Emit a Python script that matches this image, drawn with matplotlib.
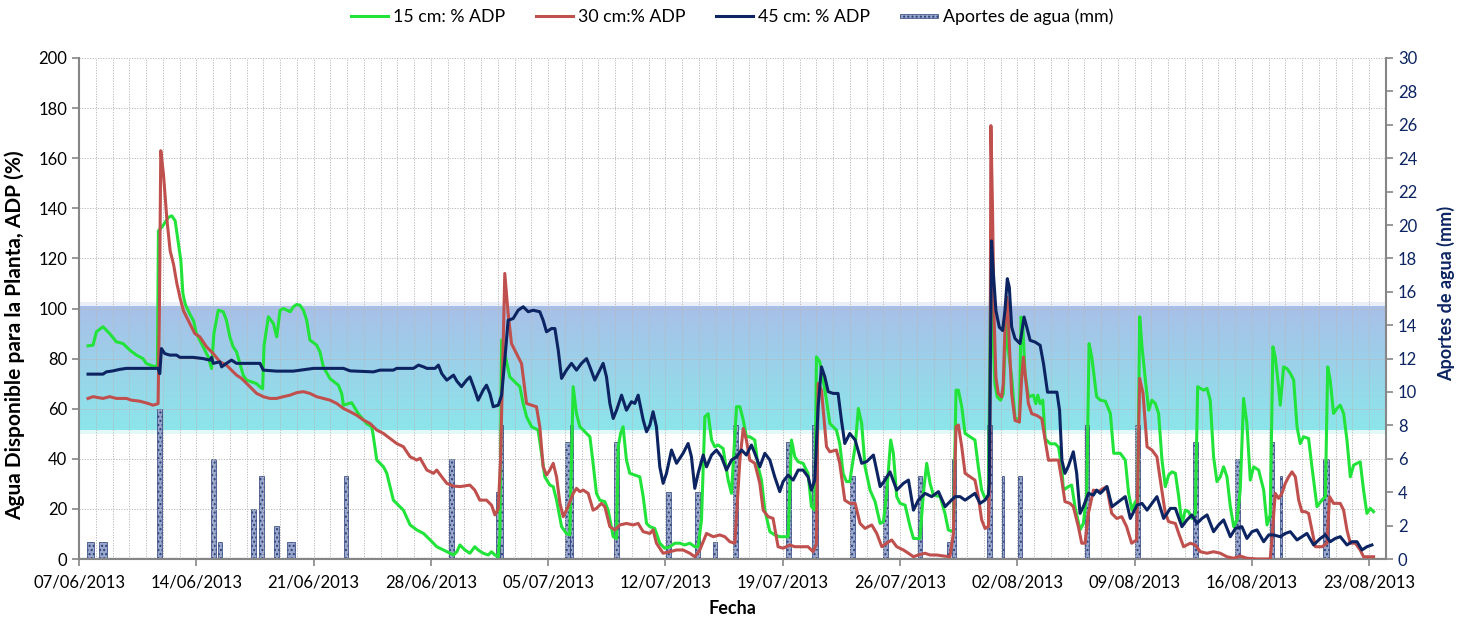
import datetime as dt
import numpy as np
import matplotlib
matplotlib.use("Agg")
import matplotlib.pyplot as plt
import matplotlib.dates as mdates
import matplotlib.patches as mpatches
from matplotlib.lines import Line2D
from matplotlib.legend_handler import HandlerPatch

plt.rcParams['font.family'] = ['Lato', 'DejaVu Sans']

# Fecha de inicio del registro (dia 0)
inicio = dt.datetime(2013, 6, 7)
fin = dt.datetime(2013, 8, 24)

# Series: (dias desde el 07/06/2013, % ADP)
serie_15cm = [
    (0.54, 85.1), (0.84, 85.4), (1.04, 90.7), (1.43, 92.7), (1.83, 90.0), (2.23, 86.7), (2.63, 86.0),
    (3.03, 83.4), (3.43, 81.4), (3.82, 80.0), (4.02, 78.0), (4.42, 77.0), (4.68, 77.0), (4.74, 131.0),
    (5.0, 133.0), (5.34, 136.4), (5.54, 137.0), (5.74, 135.0), (5.94, 125.7), (6.08, 119.0), (6.2, 106.0),
    (6.34, 101.7), (6.6, 98.0), (6.84, 95.0), (7.01, 90.0), (7.41, 84.7), (7.71, 80.7), (7.91, 76.0),
    (8.05, 90.0), (8.31, 99.3), (8.61, 98.7), (8.8, 95.3), (9.0, 88.7), (9.2, 84.7), (9.4, 82.7),
    (9.6, 78.0), (9.8, 73.4), (10.0, 71.4), (10.3, 70.7), (10.6, 70.0), (10.8, 68.7), (10.96, 68.0),
    (11.04, 85.0), (11.3, 96.7), (11.6, 94.0), (11.8, 88.7), (12.0, 99.3), (12.2, 100.0), (12.6, 98.7),
    (12.8, 100.7), (12.99, 101.6), (13.19, 101.3), (13.39, 99.3), (13.59, 95.3), (13.78, 87.4),
    (14.18, 85.4), (14.38, 82.7), (14.58, 76.7), (14.98, 72.0), (15.48, 69.4), (15.68, 66.0),
    (15.78, 61.4), (16.27, 62.4), (16.67, 58.0), (17.17, 54.0), (17.47, 52.8), (17.57, 48.8),
    (17.77, 39.5), (18.17, 36.8), (18.37, 34.2), (18.76, 23.5), (19.36, 19.5), (19.76, 13.6),
    (20.16, 11.6), (20.56, 10.2), (20.96, 7.6), (21.35, 4.9), (21.75, 3.6), (22.35, 1.6), (22.55, 2.9),
    (22.73, 5.6), (23.03, 3.6), (23.33, 2.3), (23.62, 4.9), (23.82, 3.6), (24.12, 2.3), (24.42, 1.6),
    (24.62, 2.9), (24.82, 1.6), (25.02, 0.9), (25.12, 10.0), (25.22, 87.4), (25.41, 82.0), (25.71, 72.7),
    (26.01, 70.7), (26.31, 68.8), (26.51, 62.0), (26.71, 56.8), (27.01, 52.8), (27.4, 51.5), (27.6, 42.0),
    (27.8, 32.8), (28.1, 29.5), (28.3, 28.9), (28.5, 23.5), (28.8, 12.9), (29.09, 10.2), (29.29, 9.6),
    (29.39, 40.0), (29.49, 68.8), (29.69, 58.0), (29.89, 52.8), (30.09, 51.5), (30.29, 50.1),
    (30.49, 48.8), (30.68, 38.2), (30.88, 26.2), (31.08, 23.5), (31.38, 22.9), (31.58, 19.5),
    (31.88, 8.9), (32.08, 8.2), (32.18, 44.8), (32.32, 50.1), (32.47, 52.8), (32.67, 39.5),
    (32.87, 34.2), (33.17, 33.5), (33.47, 32.8), (33.67, 24.9), (33.87, 14.2), (34.07, 12.9),
    (34.36, 12.2), (34.66, 6.3), (34.96, 4.3), (35.26, 4.9), (35.56, 6.3), (35.86, 6.3), (36.15, 5.6),
    (36.45, 6.3), (36.75, 4.9), (36.95, 4.9), (37.15, 15.6), (37.35, 56.8), (37.55, 58.0), (37.75, 47.5),
    (37.94, 44.8), (38.14, 45.5), (38.44, 44.1), (38.74, 31.5), (38.94, 26.2), (39.24, 60.8),
    (39.44, 60.8), (39.64, 55.5), (39.83, 48.8), (40.03, 48.8), (40.33, 47.5), (40.53, 36.8),
    (40.73, 31.5), (40.93, 19.5), (41.23, 10.9), (41.52, 9.6), (41.82, 8.9), (42.32, 8.9), (42.52, 47.5),
    (42.72, 40.8), (42.92, 38.8), (43.21, 38.2), (43.51, 34.2), (43.71, 20.9), (43.91, 19.5),
    (44.01, 80.7), (44.21, 78.7), (44.41, 71.4), (44.61, 63.4), (44.81, 54.1), (45.0, 52.8), (45.2, 51.5),
    (45.4, 46.1), (45.6, 34.2), (45.8, 30.9), (46.0, 30.9), (46.32, 45.0), (46.51, 60.1), (46.71, 54.1),
    (46.91, 36.8), (47.21, 27.5), (47.51, 22.9), (47.81, 14.2), (48.01, 14.9), (48.2, 26.2),
    (48.44, 47.5), (48.6, 42.2), (48.8, 24.9), (49.0, 22.2), (49.3, 21.5), (49.6, 12.9), (49.8, 8.2),
    (50.19, 8.2), (50.39, 26.2), (50.59, 38.2), (50.79, 30.2), (50.99, 25.5), (51.39, 24.9),
    (51.68, 18.2), (51.88, 11.6), (52.18, 10.9), (52.34, 67.4), (52.48, 67.4), (52.68, 60.8),
    (52.88, 50.1), (53.18, 48.8), (53.47, 47.5), (53.67, 36.8), (53.87, 27.5), (54.07, 24.2),
    (54.27, 25.5), (54.4, 106.0), (54.56, 86.0), (54.66, 70.0), (54.8, 64.7), (55.0, 63.4), (55.16, 66.0),
    (55.26, 83.3), (55.32, 94.0), (55.46, 83.3), (55.66, 72.6), (55.86, 56.6), (56.12, 54.7),
    (56.22, 96.6), (56.32, 94.0), (56.46, 74.0), (56.66, 64.7), (56.96, 65.4), (57.1, 62.0),
    (57.22, 65.4), (57.36, 62.0), (57.52, 63.4), (57.66, 48.0), (57.96, 46.0), (58.26, 46.0),
    (58.46, 44.6), (58.66, 36.0), (58.75, 27.5), (59.04, 28.9), (59.24, 29.5), (59.44, 20.9),
    (59.74, 11.6), (59.94, 14.2), (60.14, 26.2), (60.28, 86.0), (60.44, 80.7), (60.73, 64.8),
    (60.95, 63.4), (61.25, 63.0), (61.55, 58.1), (61.75, 42.2), (62.14, 42.2), (62.44, 39.5),
    (62.64, 26.2), (62.84, 19.5), (63.04, 22.9), (63.18, 23.5), (63.3, 96.7), (63.44, 84.7),
    (63.64, 71.4), (63.84, 59.4), (64.03, 63.4), (64.23, 62.1), (64.43, 58.1), (64.63, 39.5),
    (64.83, 28.9), (65.03, 33.5), (65.23, 34.8), (65.43, 34.2), (65.63, 24.9), (65.82, 13.6),
    (66.02, 19.5), (66.22, 18.9), (66.42, 16.2), (66.62, 18.2), (66.76, 68.8), (66.92, 68.1),
    (67.12, 67.4), (67.32, 68.1), (67.51, 63.4), (67.71, 40.8), (67.91, 30.9), (68.11, 32.8),
    (68.31, 36.8), (68.51, 32.8), (68.71, 20.9), (68.91, 12.9), (69.11, 15.6), (69.3, 27.5),
    (69.5, 64.1), (69.7, 54.1), (69.9, 31.5), (70.1, 36.8), (70.4, 35.5), (70.7, 27.5), (70.9, 13.6),
    (71.09, 17.6), (71.25, 84.7), (71.39, 80.7), (71.59, 68.8), (71.69, 61.4), (71.89, 76.7),
    (72.09, 76.0), (72.29, 74.1), (72.49, 71.4), (72.69, 52.8), (72.88, 46.1), (73.08, 48.8),
    (73.38, 48.1), (73.58, 36.8), (73.88, 20.9), (74.18, 23.5), (74.38, 24.9), (74.52, 76.7),
    (74.67, 71.4), (74.87, 58.1), (75.07, 60.1), (75.27, 61.4), (75.47, 58.1), (75.67, 47.5),
    (75.87, 32.8), (76.07, 37.5), (76.27, 38.2), (76.46, 38.8), (76.66, 27.5), (76.86, 18.2),
    (77.06, 20.2), (77.26, 18.9)]

serie_30cm = [
    (0.54, 64.1), (0.84, 64.8), (1.43, 64.1), (1.83, 64.8), (2.23, 64.1), (2.83, 64.1), (3.13, 63.4),
    (3.63, 63.0), (4.12, 62.1), (4.42, 61.4), (4.72, 62.0), (4.8, 100.0), (4.88, 163.0), (5.04, 153.7),
    (5.24, 136.0), (5.44, 123.0), (5.64, 117.7), (5.84, 110.0), (6.04, 104.0), (6.24, 99.0), (6.61, 94.0),
    (6.91, 90.0), (7.21, 88.7), (7.61, 84.7), (8.01, 82.0), (8.41, 78.7), (8.8, 77.4), (9.1, 75.4),
    (9.4, 73.4), (9.7, 72.1), (10.0, 70.1), (10.3, 68.1), (10.6, 66.1), (11.0, 64.8), (11.39, 64.1),
    (11.79, 64.1), (12.19, 64.8), (12.59, 65.4), (12.99, 66.4), (13.39, 66.8), (13.78, 66.1),
    (14.18, 64.8), (14.58, 64.1), (14.98, 63.4), (15.38, 62.1), (15.78, 60.1), (16.18, 58.8),
    (16.57, 57.4), (16.97, 55.5), (17.37, 54.1), (17.77, 51.5), (18.17, 50.1), (18.57, 48.1),
    (18.96, 46.1), (19.36, 44.8), (19.76, 40.8), (20.16, 39.5), (20.36, 40.2), (20.76, 35.5),
    (21.16, 34.2), (21.35, 35.5), (21.65, 32.8), (21.95, 30.2), (22.35, 29.1), (22.75, 28.9),
    (23.33, 29.5), (23.62, 27.5), (23.92, 23.5), (24.32, 23.5), (24.62, 21.5), (24.82, 17.6),
    (25.02, 20.0), (25.16, 40.0), (25.41, 114.0), (25.61, 98.0), (25.81, 86.0), (26.11, 82.0),
    (26.41, 78.0), (26.71, 62.1), (27.01, 61.4), (27.3, 60.8), (27.5, 52.8), (27.7, 36.8), (27.9, 33.5),
    (28.1, 35.5), (28.3, 38.2), (28.5, 32.8), (28.7, 22.2), (28.9, 16.9), (29.19, 20.9), (29.49, 26.2),
    (29.69, 28.2), (29.89, 26.9), (30.09, 27.5), (30.39, 26.2), (30.68, 19.5), (30.88, 20.2),
    (31.18, 22.2), (31.38, 20.9), (31.68, 12.9), (31.98, 11.6), (32.28, 13.6), (32.67, 14.2),
    (33.07, 13.6), (33.37, 14.2), (33.67, 10.9), (34.07, 10.2), (34.26, 11.6), (34.46, 6.3),
    (34.86, 2.3), (35.26, 2.9), (35.66, 3.6), (36.05, 3.6), (36.45, 2.3), (36.75, 0.9), (37.05, 3.6),
    (37.45, 10.2), (37.85, 8.9), (38.24, 9.6), (38.54, 8.9), (38.84, 6.9), (39.14, 6.3), (39.44, 39.5),
    (39.64, 52.1), (39.83, 47.5), (40.03, 39.5), (40.33, 38.2), (40.63, 30.2), (40.83, 19.5),
    (41.13, 16.9), (41.42, 16.2), (41.72, 4.9), (42.02, 4.3), (42.42, 5.6), (42.72, 4.9), (43.12, 4.9),
    (43.51, 4.9), (43.81, 2.9), (44.01, 6.0), (44.11, 70.1), (44.31, 67.4), (44.61, 44.8), (44.81, 42.8),
    (45.2, 43.5), (45.4, 38.2), (45.7, 23.5), (46.0, 22.2), (46.32, 22.2), (46.61, 14.2), (46.91, 12.2),
    (47.31, 13.6), (47.61, 10.2), (47.91, 4.9), (48.2, 6.3), (48.5, 7.6), (48.8, 4.9), (49.2, 3.6),
    (49.5, 2.3), (49.8, 0.9), (50.09, 1.6), (50.49, 2.3), (50.79, 1.6), (51.19, 1.6), (51.59, 1.2),
    (51.98, 0.9), (52.18, 10.2), (52.34, 52.8), (52.48, 53.5), (52.68, 44.8), (52.88, 34.2),
    (53.18, 32.8), (53.47, 31.5), (53.67, 24.9), (53.87, 15.6), (54.07, 12.2), (54.27, 12.9),
    (54.36, 40.0), (54.42, 173.0), (54.52, 139.0), (54.6, 99.0), (54.72, 72.6), (54.86, 66.0),
    (55.06, 64.7), (55.16, 70.0), (55.26, 92.6), (55.36, 104.6), (55.42, 102.0), (55.52, 86.0),
    (55.66, 66.0), (55.86, 55.3), (56.12, 54.7), (56.26, 72.6), (56.36, 80.6), (56.46, 74.0),
    (56.66, 62.0), (56.86, 58.0), (57.16, 57.3), (57.46, 56.0), (57.66, 47.4), (57.86, 39.4),
    (58.15, 39.5), (58.45, 39.5), (58.65, 31.5), (58.84, 22.9), (59.14, 22.2), (59.34, 20.9),
    (59.64, 12.9), (59.84, 6.3), (60.04, 6.3), (60.24, 18.2), (60.54, 27.5), (60.83, 26.9),
    (61.13, 28.2), (61.33, 28.9), (61.63, 18.2), (61.93, 16.2), (62.23, 16.9), (62.52, 12.9),
    (62.82, 6.3), (63.12, 7.6), (63.3, 72.1), (63.5, 66.1), (63.74, 44.8), (64.03, 43.5), (64.33, 40.8),
    (64.53, 31.5), (64.83, 18.2), (65.03, 14.9), (65.43, 14.2), (65.63, 10.2), (65.92, 4.9),
    (66.32, 6.3), (66.62, 5.6), (66.92, 2.9), (67.32, 2.3), (67.71, 2.9), (68.11, 2.3), (68.51, 0.9),
    (68.91, 0.3), (69.3, 1.2), (69.7, 0.3), (70.3, 0.0), (71.09, 0.0), (71.19, 7.6), (71.39, 26.2),
    (71.59, 24.2), (71.79, 26.2), (71.99, 30.2), (72.19, 32.8), (72.39, 34.8), (72.59, 32.8),
    (72.79, 23.5), (72.98, 18.9), (73.18, 18.9), (73.38, 18.2), (73.58, 11.6), (73.78, 4.9),
    (74.18, 4.9), (74.48, 6.3), (74.63, 24.9), (74.87, 22.2), (75.27, 22.2), (75.47, 19.5),
    (75.67, 11.6), (75.87, 6.3), (76.17, 6.3), (76.46, 3.6), (76.66, 0.9), (77.26, 0.9)]

serie_45cm = [
    (0.54, 73.8), (1.43, 73.8), (1.63, 74.7), (2.03, 75.1), (2.43, 75.7), (2.83, 76.1), (3.82, 76.1),
    (4.72, 76.1), (4.82, 74.0), (4.92, 84.0), (5.12, 82.0), (5.42, 81.4), (5.82, 81.4), (6.02, 80.5),
    (6.81, 80.5), (7.41, 80.0), (7.81, 79.4), (7.91, 80.5), (8.01, 78.1), (8.41, 78.7), (8.51, 76.7),
    (8.8, 78.1), (9.1, 79.4), (9.4, 78.1), (10.8, 78.1), (11.0, 75.4), (11.79, 75.0), (12.79, 75.0),
    (13.59, 75.7), (14.0, 76.1), (15.78, 76.1), (16.18, 75.1), (17.57, 74.7), (17.97, 75.4),
    (18.76, 75.4), (18.96, 76.1), (19.96, 76.1), (20.26, 77.4), (20.56, 76.7), (20.76, 76.1),
    (21.25, 76.1), (21.45, 77.4), (21.65, 74.0), (21.95, 71.4), (22.15, 72.4), (22.35, 73.4),
    (22.55, 71.0), (22.83, 68.8), (23.13, 71.4), (23.33, 72.7), (23.62, 67.4), (23.82, 63.4),
    (24.12, 67.4), (24.32, 69.4), (24.52, 66.1), (24.72, 60.8), (25.02, 61.4), (25.22, 65.4),
    (25.41, 79.4), (25.61, 95.3), (25.91, 96.0), (26.21, 99.3), (26.51, 100.7), (26.81, 98.7),
    (27.1, 99.3), (27.5, 98.7), (27.7, 95.3), (27.9, 90.7), (28.2, 92.0), (28.4, 92.0), (28.6, 83.4),
    (28.8, 72.1), (29.09, 75.4), (29.39, 78.1), (29.69, 75.4), (29.99, 78.1), (30.29, 80.0),
    (30.49, 76.7), (30.78, 71.4), (31.08, 75.4), (31.28, 78.1), (31.48, 72.7), (31.68, 62.1),
    (31.88, 56.1), (32.08, 59.4), (32.38, 65.4), (32.67, 59.4), (32.97, 62.8), (33.17, 62.1),
    (33.37, 65.4), (33.67, 55.5), (33.87, 50.8), (34.07, 53.5), (34.26, 58.8), (34.46, 52.8),
    (34.66, 36.8), (34.86, 30.2), (35.06, 34.2), (35.36, 43.5), (35.66, 38.2), (36.05, 42.2),
    (36.35, 46.1), (36.55, 40.8), (36.75, 28.2), (36.95, 34.2), (37.25, 41.5), (37.45, 36.8),
    (37.75, 41.5), (38.04, 43.5), (38.34, 40.8), (38.64, 35.5), (38.94, 39.5), (39.24, 40.8),
    (39.54, 43.5), (39.83, 41.5), (40.13, 45.5), (40.33, 42.2), (40.63, 36.8), (40.93, 42.2),
    (41.23, 39.5), (41.52, 32.8), (41.82, 26.9), (42.02, 30.9), (42.32, 33.5), (42.62, 31.5),
    (42.92, 35.5), (43.21, 35.5), (43.51, 32.8), (43.71, 27.5), (43.91, 31.5), (44.11, 60.8),
    (44.31, 76.7), (44.51, 72.7), (44.71, 66.8), (45.0, 66.1), (45.3, 66.1), (45.5, 55.5),
    (45.7, 46.1), (46.0, 50.1), (46.32, 47.5), (46.71, 38.2), (47.01, 38.9), (47.41, 41.5),
    (47.81, 28.9), (48.1, 31.5), (48.4, 34.8), (48.8, 27.5), (49.2, 30.2), (49.5, 31.5), (49.8, 19.5),
    (50.09, 23.5), (50.49, 26.2), (50.89, 24.9), (51.29, 26.9), (51.69, 20.9), (51.98, 22.9),
    (52.28, 24.9), (52.58, 24.9), (52.88, 23.5), (53.18, 24.9), (53.47, 26.2), (53.77, 22.2),
    (54.07, 23.5), (54.27, 25.5), (54.32, 30.0), (54.46, 127.0), (54.56, 115.0), (54.72, 99.2),
    (54.92, 92.6), (55.12, 91.2), (55.26, 99.2), (55.4, 111.9), (55.52, 108.5), (55.66, 92.6),
    (55.86, 88.0), (56.16, 86.0), (56.4, 96.6), (56.56, 92.6), (56.76, 87.3), (57.06, 86.6),
    (57.36, 85.3), (57.56, 78.0), (57.8, 66.6), (58.36, 66.6), (58.52, 59.3), (58.66, 39.4),
    (58.84, 34.2), (59.04, 37.0), (59.34, 42.8), (59.54, 34.2), (59.74, 18.2), (59.94, 20.9),
    (60.24, 26.2), (60.54, 25.5), (60.73, 27.5), (60.95, 26.2), (61.35, 28.9), (61.65, 20.9),
    (62.05, 22.9), (62.44, 24.9), (62.74, 16.2), (63.14, 21.5), (63.44, 22.2), (63.74, 19.5),
    (64.03, 22.2), (64.33, 24.9), (64.73, 16.2), (65.13, 20.2), (65.43, 20.2), (65.82, 12.9),
    (66.12, 15.6), (66.42, 17.6), (66.72, 14.2), (67.02, 16.2), (67.32, 17.6), (67.71, 10.9),
    (68.01, 13.6), (68.31, 15.6), (68.71, 8.9), (69.01, 12.2), (69.4, 12.9), (69.7, 8.2), (70.0, 10.9),
    (70.3, 11.6), (70.7, 6.9), (71.0, 9.6), (71.29, 9.6), (71.69, 8.9), (71.99, 10.2), (72.29, 10.9),
    (72.69, 7.6), (72.98, 8.9), (73.28, 10.2), (73.68, 5.6), (74.08, 8.2), (74.38, 9.6), (74.67, 6.9),
    (74.97, 8.2), (75.27, 8.9), (75.67, 5.6), (75.97, 6.9), (76.27, 6.9), (76.56, 3.6), (76.86, 4.9),
    (77.16, 5.6)]

# Aportes de agua: dia de inicio, dia de fin y lamina (mm)
riego_ini = [0.48, 1.19, 4.65, 7.85, 8.30, 10.25, 10.75, 11.65, 12.40, 15.80, 22.10, 24.90, 25.10,
             29.00, 29.30, 31.90, 35.05, 36.75, 37.85, 39.04, 42.22, 43.75, 46.00, 48.00, 50.10,
             51.80, 52.10, 54.17, 55.07, 56.06, 60.04, 63.02, 66.48, 69.00, 71.09, 71.70, 74.24]
riego_fin = [0.90, 1.67, 4.95, 8.15, 8.55, 10.55, 11.05, 11.95, 12.90, 16.05, 22.40, 25.10, 25.30,
             29.30, 29.50, 32.20, 35.35, 37.05, 38.05, 39.34, 42.52, 44.10, 46.30, 48.30, 50.30,
             52.00, 52.34, 54.47, 55.22, 56.30, 60.30, 63.30, 66.76, 69.30, 71.29, 71.82, 74.58]
riego_mm = [1, 1, 9, 6, 1, 3, 5, 2, 1, 5, 6, 4, 8,
            7, 8, 7, 4, 4, 1, 8, 7, 8, 5, 5, 5,
            1, 6, 8, 5, 5, 8, 8, 7, 6, 7, 5, 6]

# Franja de confort hidrico (% ADP)
franja_adp = [51.5, 101.0]

# Conversion de dias a fechas matplotlib
t0 = mdates.date2num(inicio)
t_fin = mdates.date2num(fin)

def a_fechas(serie):
    datos = np.array(serie)
    return t0 + datos[:, 0], datos[:, 1]

verde = '#22e33a'
rojo = '#c0504d'
marino = '#0c2461'
gris = '#868686'
rejilla = '#b8b8b8'
relleno_barra = '#9aa7cc'
borde_barra = '#2b3f78'

fig = plt.figure(figsize=(14.64, 6.17), dpi=100)
ax = fig.add_axes([79 / 1464, 1 - 559 / 617, (1386 - 79) / 1464, (559 - 58) / 617])
ax2 = ax.twinx()
ax.set_zorder(2)
ax2.set_zorder(1)
ax.patch.set_visible(False)

# Escala secundaria: 200 % ADP <-> 30 mm
factor = 30 / 200

# Franja degradada
degradado = np.zeros((100, 2, 3))
arriba = np.array([0.66, 0.75, 0.91])
abajo = np.array([0.55, 0.90, 0.92])
for i in range(100):
    f = i / 99
    degradado[i, :, :] = arriba * (1 - f) + abajo * f
ax2.imshow(degradado, extent=[t0, t_fin, franja_adp[0] * factor, franja_adp[1] * factor],
           aspect='auto', interpolation='bilinear', zorder=0)
ax2.axhspan(franja_adp[1] * factor, (franja_adp[1] + 1.5) * factor, color=arriba, alpha=0.25, lw=0, zorder=0)
ax2.axhspan((franja_adp[0] - 1.5) * factor, franja_adp[0] * factor, color=abajo, alpha=0.25, lw=0, zorder=0)

# Barras de aportes
ini = np.array(riego_ini)
anchos = np.array(riego_fin) - ini
ax2.bar(t0 + ini, riego_mm, width=anchos, align='edge', facecolor=relleno_barra,
        edgecolor=borde_barra, hatch='....', linewidth=0.5, zorder=2)
ax2.axhline(0, color='#3b4f85', lw=1.6, ls=(0, (1, 0.6)), zorder=2)

# Lineas
for serie, color in [(serie_15cm, verde), (serie_30cm, rojo), (serie_45cm, marino)]:
    x, y = a_fechas(serie)
    ax.plot(x, y, color=color, lw=2.2, solid_joinstyle='round', zorder=3)

# Ejes
ax.set_xlim(t0, t_fin)
ax.set_ylim(0, 200)
ax2.set_ylim(0, 30)
ax.set_yticks(np.arange(0, 201, 20))
ax2.set_yticks(np.arange(0, 31, 2))
ax.xaxis.set_major_locator(matplotlib.ticker.FixedLocator(np.arange(t0, t_fin + 0.5, 7)))
ax.xaxis.set_minor_locator(matplotlib.ticker.FixedLocator(np.arange(t0, t_fin + 0.5, 1)))
ax.xaxis.set_major_formatter(mdates.DateFormatter('%d/%m/%Y'))

ax.grid(True, which='both', axis='x', color=rejilla, lw=0.7, ls=(0, (1.2, 1.5)))
ax.grid(True, which='major', axis='y', color=rejilla, lw=0.7, ls=(0, (1.2, 1.5)))
ax.set_axisbelow(True)

for s in ['top', 'right']:
    ax.spines[s].set_visible(False)
for s in ['top', 'left', 'bottom']:
    ax2.spines[s].set_visible(False)
for s in ['left', 'bottom']:
    ax.spines[s].set_color(gris)
    ax.spines[s].set_linewidth(1.5)
ax2.spines['right'].set_color(gris)
ax2.spines['right'].set_linewidth(1.5)

ax.tick_params(axis='both', which='major', direction='out', length=5, color=gris, width=1.2,
               labelsize=12, labelcolor='black')
ax.tick_params(axis='x', which='minor', length=0)
ax.tick_params(axis='x', pad=6)
ax2.tick_params(axis='y', direction='out', length=5, color=gris, width=1.2, labelsize=12,
                labelcolor=marino)

ax.set_ylabel('Agua Disponible para la Planta, ADP (%)', fontsize=15, fontweight='bold')
ax.yaxis.set_label_coords(-0.041, 0.447)
ax2.set_ylabel('Aportes de agua (mm)', fontsize=13, fontweight='bold', color=marino)
ax2.yaxis.set_label_coords(1.039, 0.53)
ax.set_xlabel('Fecha', fontsize=13, fontweight='bold', labelpad=7)

# Leyenda
def barra_leyenda(legend, orig_handle, xdescent, ydescent, width, height, fontsize):
    return mpatches.Rectangle((-xdescent, -ydescent + height * 0.35), width, height * 0.3)

manejadores = [Line2D([], [], color=verde, lw=2.2), Line2D([], [], color=rojo, lw=2.2),
               Line2D([], [], color=marino, lw=2.2),
               mpatches.Patch(facecolor=relleno_barra, edgecolor=borde_barra, hatch='....', lw=0.5)]
etiquetas = ['15 cm: % ADP', '30 cm:% ADP', '45 cm: % ADP', 'Aportes de agua (mm)']
fig.legend(manejadores, etiquetas, loc='center', bbox_to_anchor=(0.5, 1 - 17 / 617), ncol=4,
           frameon=False, fontsize=12.8, handlelength=2.1, handletextpad=0.28, columnspacing=1.7,
           handler_map={mpatches.Patch: HandlerPatch(patch_func=barra_leyenda)})

fig.savefig('out.png', dpi=100)
